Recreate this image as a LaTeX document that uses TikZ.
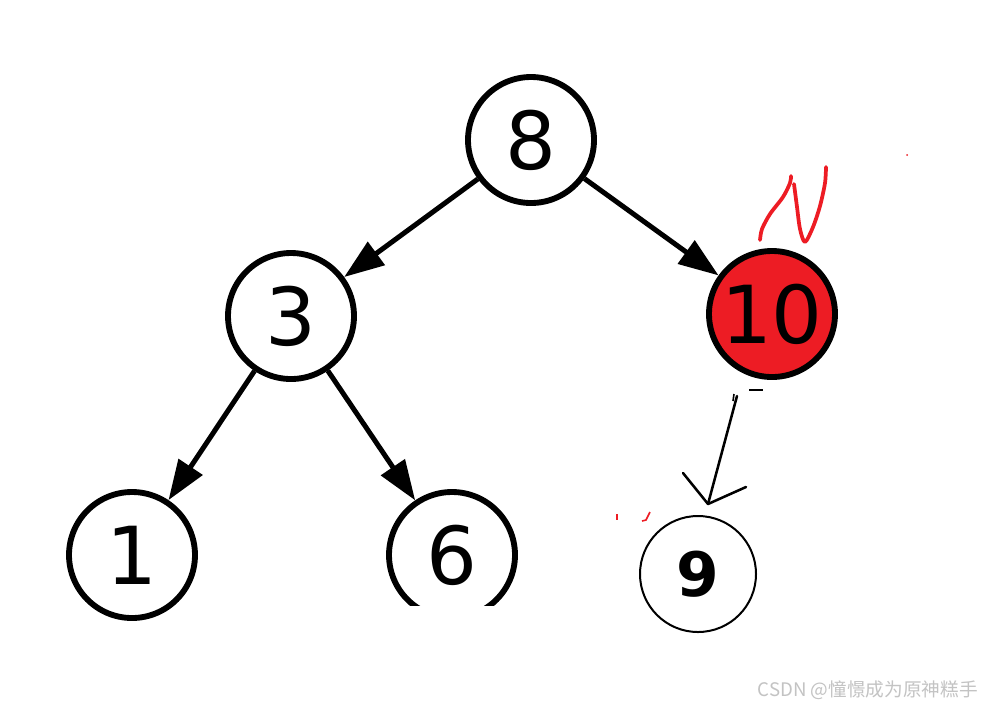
\documentclass[tikz,border=0pt]{standalone}
\usepackage{fontspec}
\setmainfont{DejaVu Sans}
\newfontfamily\cjk{Noto Sans CJK SC}
\usetikzlibrary{arrows.meta}
\definecolor{nodered}{HTML}{ED1C24}
\definecolor{wm}{RGB}{195,195,195}
\begin{document}
\begin{tikzpicture}[x=0.75pt,y=-0.75pt,
  tnode/.style={circle,draw=black,line width=4.4pt,minimum size=94.5pt,inner sep=0pt,fill=white,
    font=\fontsize{60}{60}\selectfont},
  thin node/.style={circle,draw=black,line width=1.5pt,minimum size=87pt,inner sep=0pt,fill=white,
    font=\fontsize{46}{46}\selectfont\bfseries},
  tedge/.style={line width=3.75pt,-{Triangle[length=30pt,width=21pt]}},
  hand/.style={line width=1.9pt,line cap=round,line join=round},
  redmark/.style={nodered,line width=2.8pt,line cap=round,line join=round}]
\useasboundingbox (0,0) rectangle (981,708);
\fill[white] (0,0) rectangle (981,708);

\node[tnode] (n8) at (531,140) {8};
\node[tnode] (n3) at (291,316) {3};
\node[tnode,fill=nodered] (n10) at (772,314) {10};
\node[tnode] (n1) at (132,555) {1};
\node[tnode] (n6) at (452,555) {6};
\node[thin node] (n9) at (698,574) {9};

% cut-off bottom of node 6
\fill[white] (380,606) rectangle (525,630);

\draw[tedge] (n8) -- (n3);
\draw[tedge] (n8) -- (n10);
\draw[tedge] (n3) -- (n1);
\draw[tedge] (n3) -- (n6);

% hand-drawn arrow
\coordinate (hs) at (737,396);
\coordinate (ht) at (708,504);
\draw[hand] (hs) -- (ht);
\draw[hand] (683,473) -- (ht) -- (746,487);

% small remnants below node 10
\draw[line width=1.5pt] (749,390) -- (763,390);
\draw[line width=1.2pt] (734,394) -- (733,401);

% red hand-written mark
\draw[redmark] plot[smooth] coordinates {(760,240) (762,229) (770,214) (783,197) (790,183) (791,176)};
\draw[redmark] plot[smooth] coordinates {(794,184) (797,207) (800,229) (805,242) (813,227) (820,206) (825,183) (826,167)};
\fill[nodered] (907,155) circle (1);
\draw[nodered,line width=0.9pt] (617,514) -- (617,520);
\draw[nodered,line width=1.2pt] (650,512) -- (646,520) -- (642,521);

% watermark
\node[anchor=east,text=wm,font=\cjk\fontsize{14}{14}\selectfont,inner sep=0pt] (wm) at (978,690) {CSDN @憧憬成为原神糕手};
\end{tikzpicture}
\end{document}
